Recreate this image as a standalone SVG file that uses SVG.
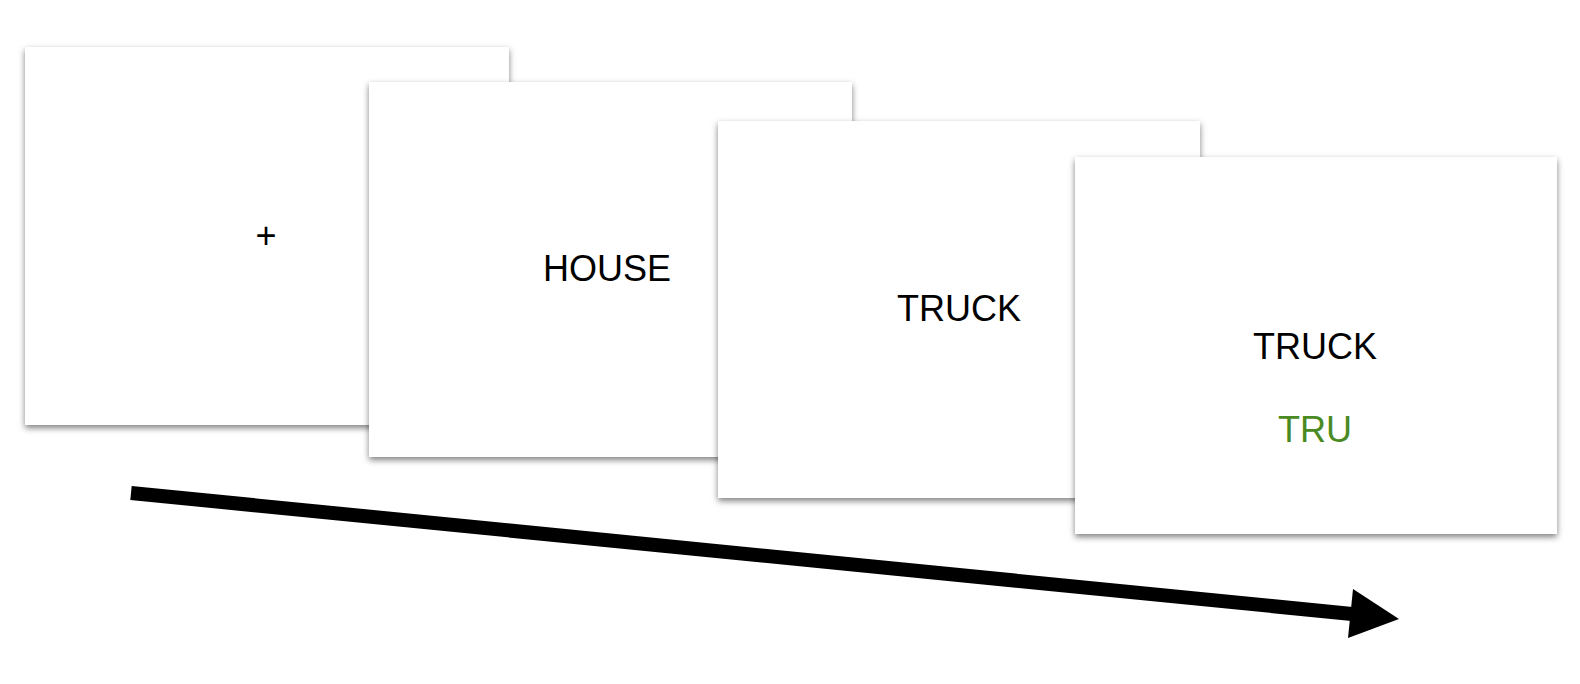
<svg xmlns="http://www.w3.org/2000/svg" width="1580" height="684" viewBox="0 0 1580 684">
<style>
.card{fill:#ffffff;filter:url(#sh)}
.lbl{font-family:"Liberation Sans",Arial,sans-serif;font-size:36px;text-anchor:middle;fill:#000000}
.green{fill:#4a8a22}
</style>
<defs>
<filter id="sh" x="-5%" y="-5%" width="110%" height="115%">
<feDropShadow dx="0" dy="3" stdDeviation="3" flood-color="#000000" flood-opacity="0.5"/>
</filter>
</defs>
<rect width="1580" height="684" fill="#ffffff"/>
<g id="card1">
<rect class="card" x="25" y="47" width="484" height="378"/>
<text class="lbl" x="266" y="248">+</text>
</g>
<g id="card2">
<rect class="card" x="369" y="82" width="483" height="375"/>
<text class="lbl" x="607" y="281">HOUSE</text>
</g>
<g id="card3">
<rect class="card" x="718" y="121" width="482" height="377"/>
<text class="lbl" x="959" y="321">TRUCK</text>
</g>
<g id="card4">
<rect class="card" x="1075" y="157" width="482" height="377"/>
<text class="lbl" x="1315" y="359">TRUCK</text>
<text class="lbl green" x="1315" y="442">TRU</text>
</g>
<g id="connectors">
<line x1="131" y1="493" x2="1352" y2="614" stroke="#000000" stroke-width="14"/>
<polygon points="1399,619 1353,589 1348,638" fill="#000000"/>
</g>
</svg>
